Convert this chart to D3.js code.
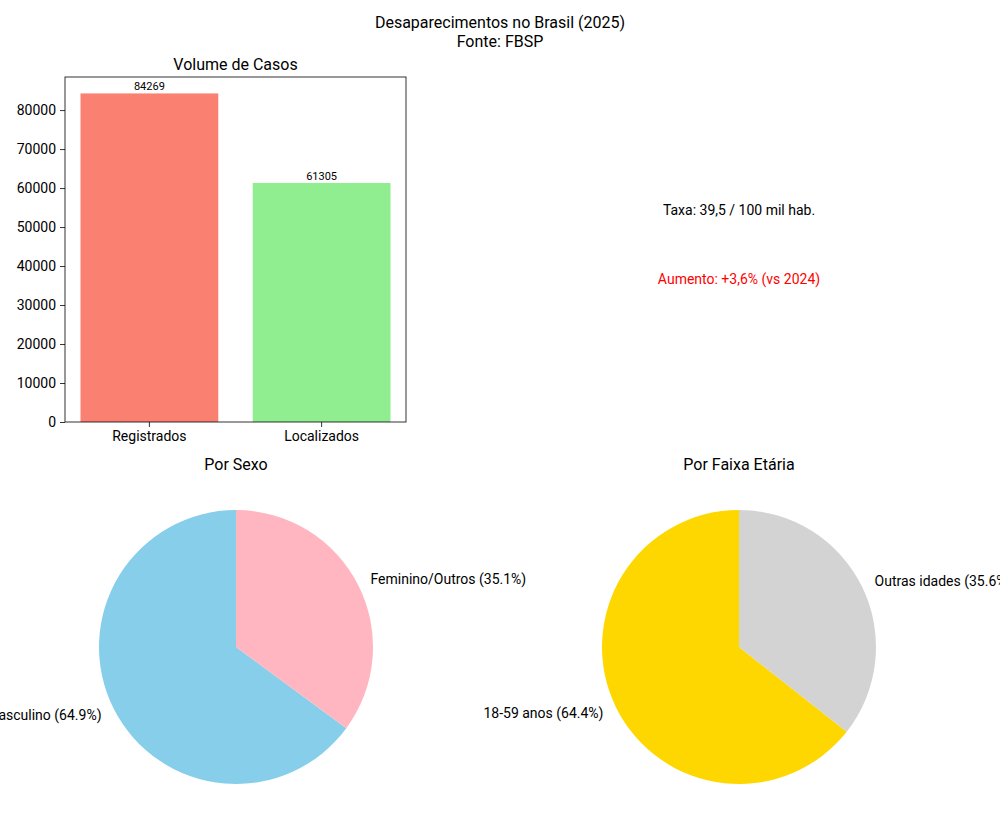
<!DOCTYPE html>
<html>
<head>
<meta charset="utf-8">
<script src="https://cdn.jsdelivr.net/npm/d3@7"></script>
<style>
  body { margin: 0; background: #fff; }
  svg { display: block; font-family: "Roboto", sans-serif; }
</style>
</head>
<body>
<div id="chart"></div>
<script>
// data
const barCategories = ["Registrados", "Localizados"];
const barValues = [84269, 61305];
const barColors = ["#FA8072", "#90EE90"];
const yTicks = [0, 10000, 20000, 30000, 40000, 50000, 60000, 70000, 80000];

const sexLabels = ["Masculino", "Feminino/Outros"];
const sexValues = [64.9, 35.1];
const sexColors = ["#87CEEB", "#FFB6C1"];

const ageLabels = ["18-59 anos", "Outras idades"];
const ageValues = [64.4, 35.6];
const ageColors = ["#FFD700", "#D3D3D3"];

const infoTexts = ["Taxa: 39,5 / 100 mil hab.", "Aumento: +3,6% (vs 2024)"];
const infoColors = ["#000", "#ff0000"];

const W = 1000, H = 833;

let svg = d3.select("#chart").append("svg")
    .attr("width", W)
    .attr("height", H);

// figure title
svg.append("text")
    .attr("x", 500).attr("y", 28)
    .attr("text-anchor", "middle")
    .style("font-size", "16px")
    .text("Desaparecimentos no Brasil (2025)");
svg.append("text")
    .attr("x", 500).attr("y", 47)
    .attr("text-anchor", "middle")
    .style("font-size", "16px")
    .text("Fonte: FBSP");

/* ---------- bar chart ---------- */
let bar = {left: 65, right: 406, top: 77, bottom: 422};

let x = d3.scaleBand()
    .domain(barCategories)
    .range([bar.left, bar.right])
    .paddingInner(0.2)
    .paddingOuter(0.09);
let y = d3.scaleLinear()
    .domain([0, d3.max(barValues) * 1.05])
    .range([bar.bottom, bar.top]);

let barG = svg.append("g").attr("class", "bar-chart");

barG.selectAll(".bar")
    .data(barValues)
    .enter()
    .append("rect")
    .attr("class", "bar")
    .attr("x", (d, i) => x(barCategories[i]))
    .attr("width", x.bandwidth())
    .attr("y", d => y(d))
    .attr("height", d => y(0) - y(d))
    .attr("fill", (d, i) => barColors[i]);

barG.selectAll(".label")
    .data(barValues)
    .enter()
    .append("text")
    .attr("class", "label")
    .attr("x", (d, i) => x(barCategories[i]) + x.bandwidth() / 2)
    .attr("y", d => y(d) - 3)
    .attr("text-anchor", "middle")
    .style("font-size", "11px")
    .text(d => d);

// axes
let xAxis = barG.append("g")
    .attr("transform", `translate(0, ${bar.bottom})`)
    .call(d3.axisBottom(x).tickSize(5).tickPadding(4));
let yAxis = barG.append("g")
    .attr("transform", `translate(${bar.left}, 0)`)
    .call(d3.axisLeft(y).tickValues(yTicks).tickSize(5).tickPadding(4).tickFormat(d3.format("d")));

[xAxis, yAxis].forEach(a => {
    a.select(".domain").remove();
    a.selectAll("text").style("font-size", "14px").style("font-family", "Roboto, sans-serif").attr("fill", "#000");
    a.selectAll("line").attr("stroke", "#000").attr("stroke-width", 0.8);
});

// frame
barG.append("rect")
    .attr("x", bar.left).attr("y", bar.top)
    .attr("width", bar.right - bar.left)
    .attr("height", bar.bottom - bar.top)
    .attr("fill", "none")
    .attr("stroke", "#000")
    .attr("stroke-width", 0.8);

barG.append("text")
    .attr("x", (bar.left + bar.right) / 2).attr("y", 70)
    .attr("text-anchor", "middle")
    .style("font-size", "16px")
    .text("Volume de Casos");

/* ---------- info panel ---------- */
let infoY = d3.scaleLinear().domain([0, 1]).range([bar.bottom, bar.top]);
svg.selectAll(".info")
    .data(infoTexts)
    .enter()
    .append("text")
    .attr("class", "info")
    .attr("x", 739)
    .attr("y", (d, i) => infoY([0.6, 0.4][i]))
    .attr("text-anchor", "middle")
    .style("font-size", "14px")
    .attr("fill", (d, i) => infoColors[i])
    .text(d => d);

/* ---------- pies ---------- */
function drawPie(cx, cy, r, labels, values, colors, title) {
    let g = svg.append("g").attr("transform", `translate(${cx}, ${cy})`);

    let pie = d3.pie().sort(null).startAngle(0).endAngle(-2 * Math.PI);
    let arcs = pie(values);
    let arc = d3.arc().innerRadius(0).outerRadius(r);

    g.selectAll("path")
        .data(arcs)
        .enter()
        .append("path")
        .attr("d", arc)
        .attr("fill", (d, i) => colors[i]);

    g.selectAll(".pie-label")
        .data(arcs)
        .enter()
        .append("text")
        .attr("class", "pie-label")
        .attr("x", d => Math.sin((d.startAngle + d.endAngle) / 2) * r * 1.1)
        .attr("y", d => -Math.cos((d.startAngle + d.endAngle) / 2) * r * 1.1)
        .attr("dy", "0.35em")
        .attr("text-anchor", d => Math.sin((d.startAngle + d.endAngle) / 2) < 0 ? "end" : "start")
        .style("font-size", "14px")
        .text((d, i) => `${labels[i]} (${values[i].toFixed(1)}%)`);

    svg.append("text")
        .attr("x", cx).attr("y", 470)
        .attr("text-anchor", "middle")
        .style("font-size", "16px")
        .text(title);
}

drawPie(236, 647, 137, sexLabels, sexValues, sexColors, "Por Sexo");
drawPie(739, 647, 137, ageLabels, ageValues, ageColors, "Por Faixa Etária");
</script>
</body>
</html>
